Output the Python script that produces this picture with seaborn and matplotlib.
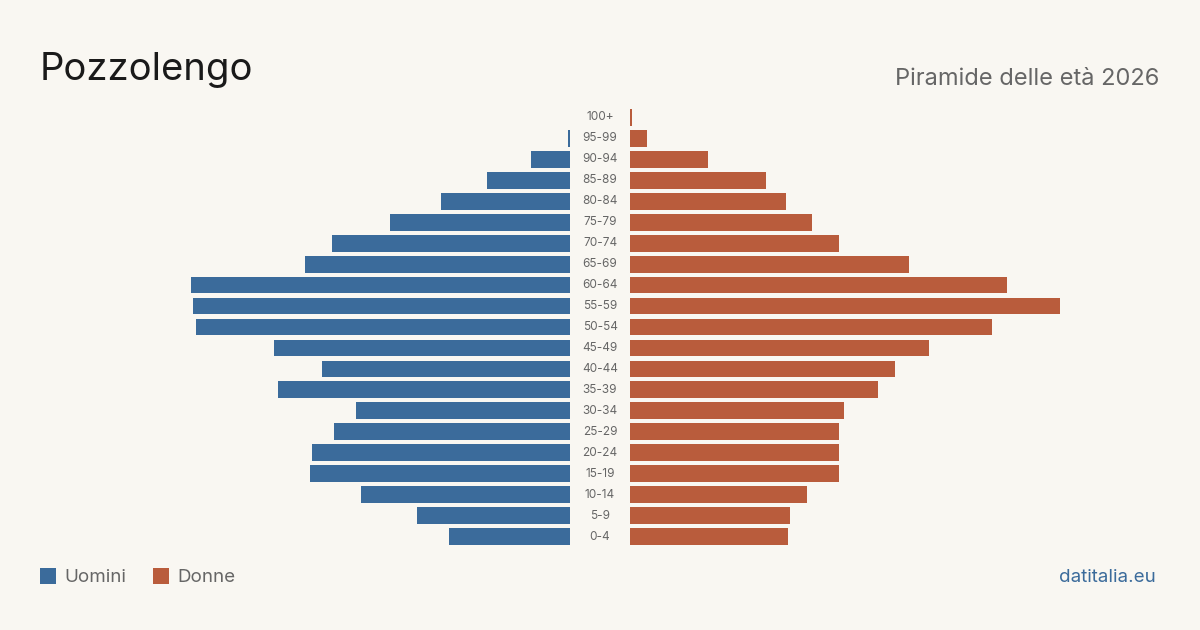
import matplotlib
matplotlib.use('Agg')
import matplotlib.pyplot as plt
import matplotlib.transforms as mtransforms
from matplotlib.patches import Rectangle
import seaborn as sns

# Dati (persone per classe d'età)
classi = ['100+', '95-99', '90-94', '85-89', '80-84', '75-79', '70-74', '65-69',
          '60-64', '55-59', '50-54', '45-49', '40-44', '35-39', '30-34', '25-29',
          '20-24', '15-19', '10-14', '5-9', '0-4']
uomini = [0, 1, 16, 34, 53, 74, 98, 109, 156, 155, 154, 122, 102, 120, 88, 97,
          106, 107, 86, 63, 50]
donne = [1, 7, 32, 56, 64, 75, 86, 115, 155, 177, 149, 123, 109, 102, 88, 86,
         86, 86, 73, 66, 65]

BG = '#f9f7f2'
BLU = '#3b6b9b'
ARANCIO = '#b95c3c'
GRIGIO = '#666666'

sns.set_theme(style='white')
plt.rcParams['font.family'] = ['Inter', 'DejaVu Sans']

W, H = 1200, 630
fig = plt.figure(figsize=(12, 6.3), dpi=100, facecolor=BG)

# scala comune: 2.43 px per persona
larg = 450
xmax = larg / 2.43
top_px, bot_px = 107, 547
b = 1 - bot_px / H
h = (bot_px - top_px) / H

ax_m = fig.add_axes([(570 - larg) / W, b, larg / W, h])
ax_f = fig.add_axes([630 / W, b, larg / W, h])

sns.barplot(x=uomini, y=classi, orient='h', color=BLU, width=0.8,
            saturation=1, linewidth=0, ax=ax_m)
sns.barplot(x=donne, y=classi, orient='h', color=ARANCIO, width=0.8,
            saturation=1, linewidth=0, ax=ax_f)

ax_m.set_xlim(xmax, 0)
ax_f.set_xlim(0, xmax)
for ax in (ax_m, ax_f):
    ax.set_facecolor(BG)
    ax.set_ylim(len(classi) - 0.5, -0.5)
    ax.set_xticks([])
    ax.set_yticks([])
    ax.set_xlabel('')
    ax.set_ylabel('')
    for s in ax.spines.values():
        s.set_visible(False)

# etichette delle classi al centro
trans = mtransforms.blended_transform_factory(fig.transFigure, ax_f.transData)
for i, c in enumerate(classi):
    fig.text(600 / W, i, c, transform=trans, ha='center', va='center',
             fontsize=8.5, color=GRIGIO)

# titoli
fig.text(40 / W, 1 - 80 / H, 'Pozzolengo', fontsize=27.5, color='#1a1a1a',
         ha='left', va='baseline')
fig.text(1159 / W, 1 - 85 / H, 'Piramide delle età 2026', fontsize=17,
         color=GRIGIO, ha='right', va='baseline')

# legenda
for x0, col, lab in [(40, BLU, 'Uomini'), (153, ARANCIO, 'Donne')]:
    fig.patches.append(Rectangle((x0 / W, 1 - 584 / H), 16 / W, 16 / H,
                                 transform=fig.transFigure, facecolor=col,
                                 edgecolor='none'))
    fig.text((x0 + 24) / W, 1 - 577 / H, lab, fontsize=13.5, color=GRIGIO,
             ha='left', va='center')

fig.text(1156 / W, 1 - 577 / H, 'datitalia.eu', fontsize=13.5, color=BLU,
         ha='right', va='center')

fig.savefig('out.png', dpi=100, facecolor=BG)
